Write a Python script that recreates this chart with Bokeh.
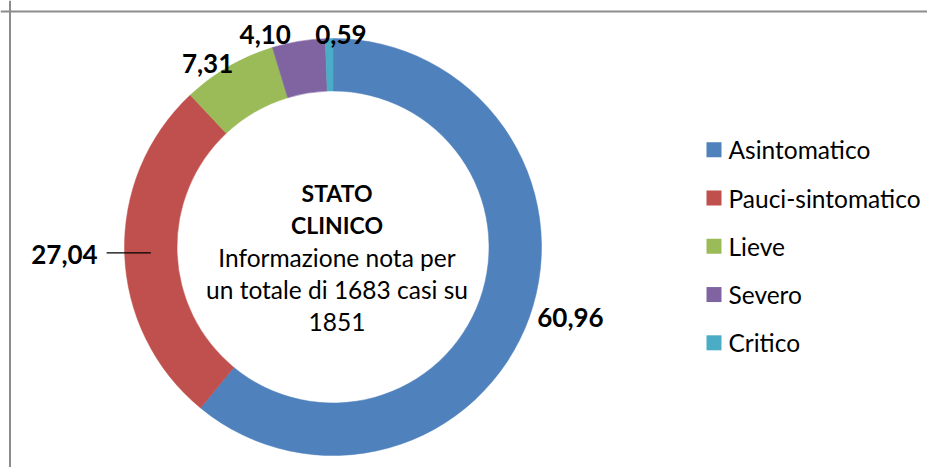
import numpy as np
from bokeh.plotting import figure
from bokeh.models import Range1d, Span
from bokeh.core.properties import value
from bokeh.embed import file_html
from bokeh.resources import INLINE

# ---- data ----
categories = ["Asintomatico", "Pauci-sintomatico", "Lieve", "Severo", "Critico"]
percentages = [60.96, 27.04, 7.31, 4.10, 0.59]
label_texts = ["60,96", "27,04", "7,31", "4,10", "0,59"]
colors = ["#4F81BD", "#C0504D", "#9BBB59", "#8064A2", "#4BACC6"]
center_title = ["STATO", "CLINICO"]
center_note = ["Informazione nota per", "un totale di 1683 casi su", "1851"]

# ---- layout (screen pixels; data y = -screen y) ----
FONT = "Lato"
W, H = 927, 467
p = figure(width=W, height=H, x_range=Range1d(0, W), y_range=Range1d(-H, 0),
           output_backend="svg", toolbar_location=None, min_border=0,
           x_axis_location=None, y_axis_location=None)
p.grid.visible = False
p.outline_line_color = None
p.background_fill_color = "white"
p.border_fill_color = "white"

# chart-area border (left and top visible)
p.add_layout(Span(location=9.5, dimension="height", line_color="#8C8C8C", line_width=2))
p.add_layout(Span(location=-11, dimension="width", line_color="#8C8C8C", line_width=2))

cx, cy = 332.5, -246.5
R_OUT, R_IN = 208.5, 156.0

frac = np.array(percentages) / sum(percentages)
cum = np.concatenate([[0.0], np.cumsum(frac)])
start = np.pi / 2 - 2 * np.pi * cum[:-1]
end = np.pi / 2 - 2 * np.pi * cum[1:]
mid = (start + end) / 2

p.annular_wedge(x=cx, y=cy, inner_radius=R_IN, outer_radius=R_OUT,
                start_angle=list(start), end_angle=list(end), direction="clock",
                fill_color=colors, line_color=colors, line_width=0.5)

# data labels (outside end, with small per-label nudges like Excel's best fit)
nudges = [(28, -5), None, (-14, 9), (-31, 7), (12, 10)]
lab_r = R_OUT + 14
for i, t in enumerate(label_texts):
    if nudges[i] is None:
        # moved label with leader line
        rm = (R_OUT + R_IN) / 2
        ly_lead = cy + rm * np.sin(mid[i])
        x0 = cx + rm * np.cos(mid[i])
        x1 = cx + (R_OUT + 18) * np.cos(mid[i])
        p.line(x=[x0, x1], y=[ly_lead, ly_lead], line_color="black", line_width=1.2)
        xt = cx + (R_OUT + 27) * np.cos(mid[i])
        yt = cy + (R_OUT + 27) * np.sin(mid[i])
        p.text(x=[xt], y=[yt], text=[t], text_font=value(FONT), text_font_style="bold",
               text_font_size="26px", text_align="right", text_baseline="middle",
               text_color="black")
    else:
        dx, dy = nudges[i]
        xt = cx + lab_r * np.cos(mid[i]) + dx
        yt = cy + lab_r * np.sin(mid[i]) - dy
        p.text(x=[xt], y=[yt], text=[t], text_font=value(FONT), text_font_style="bold",
               text_font_size="26px", text_align="center", text_baseline="middle",
               text_color="black")

# center text
tx = cx + 4
lines = center_title + center_note
for i, t in enumerate(lines):
    bold = i < len(center_title)
    p.text(x=[tx], y=[-(192.7 + i * 32.1)], text=[t], text_font=value(FONT),
           text_font_style="bold" if bold else "normal",
           text_font_size="23px" if bold else "24.5px",
           text_align="center", text_baseline="alphabetic", text_color="black")

# legend
leg_x, leg_y0, leg_dy = 713.5, 149.3, 48.25
for i, c in enumerate(categories):
    yy = -(leg_y0 + i * leg_dy)
    p.rect(x=[leg_x], y=[yy], width=15, height=15, fill_color=colors[i], line_color=None)
    p.text(x=[leg_x + 14.5], y=[yy], text=[c], text_font=value(FONT), text_font_size="24.5px",
           text_align="left", text_baseline="middle", text_color="black")

open("out.html", "w").write(file_html(p, INLINE))
